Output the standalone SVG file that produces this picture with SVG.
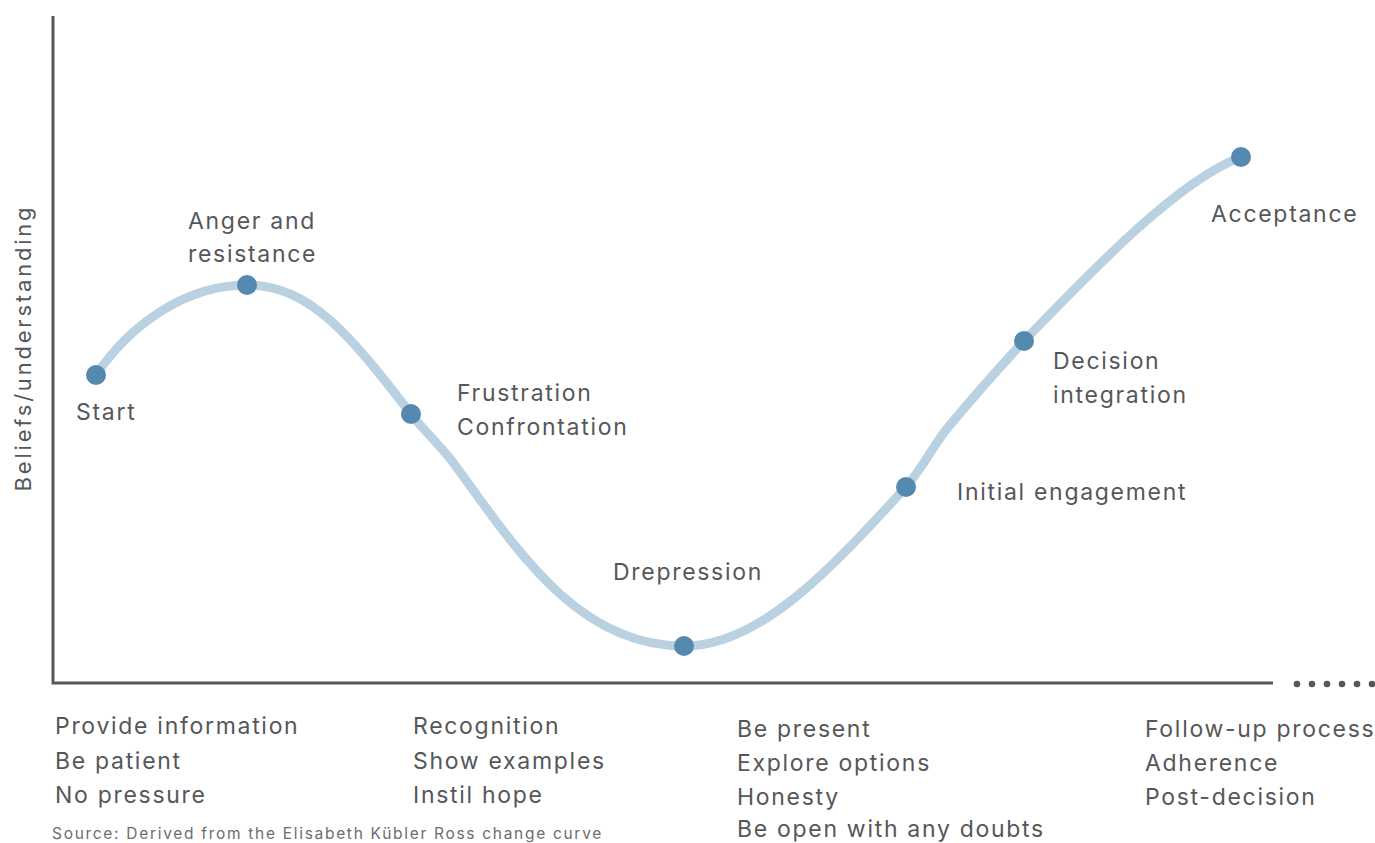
<svg xmlns="http://www.w3.org/2000/svg" width="1375" height="843" viewBox="0 0 1375 843">
<style>
.t{font-family:Inter,"Liberation Sans",sans-serif;font-size:23px;fill:#55575a;letter-spacing:1.7px}
.src{font-family:Inter,"Liberation Sans",sans-serif;font-size:15.5px;fill:#6b6d70;letter-spacing:1.7px}
.axis{stroke:#55575a;stroke-width:3;fill:none}
.curve{stroke:#b9d1e0;stroke-width:9;fill:none;stroke-linecap:round;stroke-linejoin:round}
.dot{fill:#5589b0}
</style>
<rect width="1375" height="843" fill="#ffffff"/>
<g id="axes">
<path class="axis" d="M53,16 V683 H1273"/>
<g fill="#55575a">
<circle cx="1297" cy="684" r="3.3"/><circle cx="1312" cy="684" r="3.3"/><circle cx="1327" cy="684" r="3.3"/><circle cx="1342" cy="684" r="3.3"/><circle cx="1357" cy="684" r="3.3"/><circle cx="1372" cy="684" r="3.3"/>
</g>
<text class="t" transform="translate(31,348) rotate(-90)" text-anchor="middle" style="font-size:22px;letter-spacing:2.8px">Beliefs/understanding</text>
</g>
<g id="connectors">
<path class="curve" d="M96,375 C130,325 185,285 247,285 C310,285 350,335 411,414 C425,432 440,445 455,465 C520,555 580,646 684,646 C760,646 830,570 906,487 C925,465 935,442 950,425 C975,395 1000,367 1024,341 C1100,262 1180,180 1241,157"/>
</g>
<g id="node-start"><circle class="dot" cx="96" cy="375" r="10"/><text class="t" x="76" y="420">Start</text></g>
<g id="node-anger"><circle class="dot" cx="247" cy="285" r="10"/><text class="t" x="188" y="229">Anger and</text><text class="t" x="188" y="262">resistance</text></g>
<g id="node-frustration"><circle class="dot" cx="411" cy="414" r="10"/><text class="t" x="457" y="401">Frustration</text><text class="t" x="457" y="435">Confrontation</text></g>
<g id="node-depression"><circle class="dot" cx="684" cy="646" r="10"/><text class="t" x="613" y="580">Drepression</text></g>
<g id="node-initial"><circle class="dot" cx="906" cy="487" r="10"/><text class="t" x="957" y="500">Initial engagement</text></g>
<g id="node-decision"><circle class="dot" cx="1024" cy="341" r="10"/><text class="t" x="1053" y="369">Decision</text><text class="t" x="1053" y="403">integration</text></g>
<g id="node-acceptance"><circle class="dot" cx="1241" cy="157" r="10"/><text class="t" x="1211" y="222">Acceptance</text></g>
<g id="actions">
<text class="t" x="55" y="734">Provide information</text>
<text class="t" x="55" y="769">Be patient</text>
<text class="t" x="55" y="803">No pressure</text>
<text class="t" x="413" y="734">Recognition</text>
<text class="t" x="413" y="769">Show examples</text>
<text class="t" x="413" y="803">Instil hope</text>
<text class="t" x="737" y="737">Be present</text>
<text class="t" x="737" y="771">Explore options</text>
<text class="t" x="737" y="805">Honesty</text>
<text class="t" x="737" y="837">Be open with any doubts</text>
<text class="t" x="1145" y="737">Follow-up process</text>
<text class="t" x="1145" y="771">Adherence</text>
<text class="t" x="1145" y="805">Post-decision</text>
<text class="src" x="52" y="839">Source: Derived from the Elisabeth Kübler Ross change curve</text>
</g>
</svg>
